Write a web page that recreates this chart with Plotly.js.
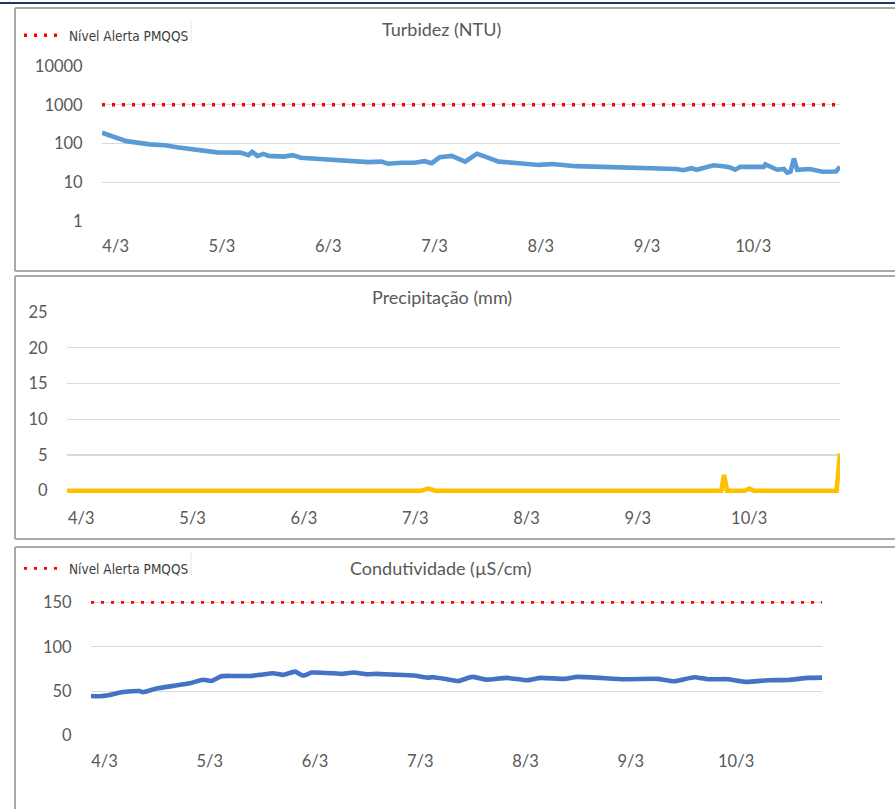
<!DOCTYPE html>
<html>
<head>
<meta charset="utf-8">
<script src="https://cdn.plot.ly/plotly-3.0.1.min.js"></script>
<style>
  html, body { margin: 0; padding: 0; background: #ffffff; }
  #chart { width: 895px; height: 809px; }
</style>
</head>
<body>
<div id="chart"></div>
<script>
// ---------------- data ----------------
const xStart = '2021-03-03 20:55';
const xEnd = '2021-03-10 19:35';

const tickDates = ['2021-03-04', '2021-03-05', '2021-03-06', '2021-03-07', '2021-03-08', '2021-03-09', '2021-03-10'];
const tickLabels = ['4/3', '5/3', '6/3', '7/3', '8/3', '9/3', '10/3'];

const turbTime = [
  '2021-03-03 20:55', '2021-03-04 02:26', '2021-03-04 07:44', '2021-03-04 11:08', '2021-03-04 13:48',
  '2021-03-04 19:05', '2021-03-04 22:53', '2021-03-05 04:10', '2021-03-05 06:00', '2021-03-05 06:50',
  '2021-03-05 08:00', '2021-03-05 09:25', '2021-03-05 10:33', '2021-03-05 14:00', '2021-03-05 15:56',
  '2021-03-05 17:49', '2021-03-06 01:19', '2021-03-06 09:00', '2021-03-06 12:00', '2021-03-06 13:31',
  '2021-03-06 16:32', '2021-03-06 19:30', '2021-03-06 21:46', '2021-03-06 23:22', '2021-03-07 01:11',
  '2021-03-07 03:54', '2021-03-07 06:56', '2021-03-07 09:35', '2021-03-07 11:28', '2021-03-07 14:31',
  '2021-03-07 19:04', '2021-03-07 23:37', '2021-03-08 02:38', '2021-03-08 07:56', '2021-03-08 14:00',
  '2021-03-08 19:18', '2021-03-09 02:07', '2021-03-09 06:40', '2021-03-09 08:11', '2021-03-09 10:04',
  '2021-03-09 11:12', '2021-03-09 15:00', '2021-03-09 17:16', '2021-03-09 18:47', '2021-03-09 19:55',
  '2021-03-09 21:04', '2021-03-10 02:22', '2021-03-10 02:45', '2021-03-10 05:24', '2021-03-10 06:55',
  '2021-03-10 07:40', '2021-03-10 08:25', '2021-03-10 09:10', '2021-03-10 09:55', '2021-03-10 12:40',
  '2021-03-10 15:40', '2021-03-10 18:40', '2021-03-10 19:35'
];
const turbValue = [
  190, 115, 95, 90, 80,
  65, 59, 58, 50, 61,
  48, 54, 48, 46, 50,
  43, 37, 33, 34, 30,
  32, 32, 35, 31, 44,
  48, 34, 54, 46, 34,
  31, 28, 29.5, 26, 25,
  24.5, 22.4, 22, 20.4, 23,
  21, 27.4, 26, 24, 21,
  25, 25, 29, 21, 22,
  17.6, 18.7, 41, 21, 22,
  18.7, 19, 25
];

const precipTime = [
  '2021-03-03 20:55', '2021-03-07 01:15', '2021-03-07 02:50', '2021-03-07 04:20',
  '2021-03-09 18:00', '2021-03-09 18:35', '2021-03-09 19:15',
  '2021-03-09 23:05', '2021-03-10 00:00', '2021-03-10 01:00',
  '2021-03-10 18:50', '2021-03-10 19:35'
];
const precipValue = [0, 0, 0.3, 0, 0, 2.2, 0, 0, 0.3, 0, 0, 5.2];

const condTime = [
  '2021-03-03 20:55', '2021-03-03 22:52', '2021-03-04 01:09', '2021-03-04 04:11', '2021-03-04 08:00',
  '2021-03-04 08:45', '2021-03-04 11:49', '2021-03-04 15:37', '2021-03-04 19:26', '2021-03-04 22:28',
  '2021-03-05 00:22', '2021-03-05 02:39', '2021-03-05 05:19', '2021-03-05 09:09', '2021-03-05 11:26',
  '2021-03-05 14:28', '2021-03-05 16:45', '2021-03-05 19:25', '2021-03-05 21:19', '2021-03-05 23:14',
  '2021-03-06 04:11', '2021-03-06 06:06', '2021-03-06 08:45', '2021-03-06 11:49', '2021-03-06 14:06',
  '2021-03-06 17:55', '2021-03-06 22:29', '2021-03-07 01:32', '2021-03-07 03:03', '2021-03-07 06:06',
  '2021-03-07 08:45', '2021-03-07 11:49', '2021-03-07 14:52', '2021-03-07 19:50', '2021-03-08 00:24',
  '2021-03-08 03:26', '2021-03-08 08:46', '2021-03-08 11:49', '2021-03-08 22:28', '2021-03-09 06:06',
  '2021-03-09 09:55', '2021-03-09 14:28', '2021-03-09 17:32', '2021-03-09 22:06', '2021-03-10 02:17',
  '2021-03-10 07:14', '2021-03-10 11:49', '2021-03-10 16:23', '2021-03-10 19:35'
];
const condValue = [
  44.7, 44.4, 45.8, 49.2, 50.3,
  49, 53, 56, 59, 63,
  61.6, 66.9, 67.2, 67.2, 68.4,
  70.2, 68.4, 72, 67.6, 71,
  70.2, 69.5, 71, 69.1, 69.5,
  68.7, 67.6, 65.3, 65.8, 63.5,
  61.6, 66.1, 63.1, 65, 62.4,
  65, 63.9, 66.1, 63.5, 63.9,
  61.3, 65.8, 63.5, 63.5, 60.5,
  62.4, 62.7, 65, 65.3
];

const alertTime = [xStart, xEnd];
const alertTurb = [1000, 1000];
const alertCond = [150, 150];

const turbTicks = [1, 10, 100, 1000, 10000];
const turbTickLabels = ['1', '10', '100', '1000', '10000'];
const precipTicks = [0, 5, 10, 15, 20, 25];
const condTicks = [0, 50, 100, 150];

const titles = ['Turbidez (NTU)', 'Precipitação (mm)', 'Condutividade (µS/cm)'];
const alertName = 'Nível Alerta PMQQS';

// ---------------- layout helpers ----------------
const W = 895, H = 809;
const fx = px => px / W;
const fy = py => 1 - py / H;

const tickFont = { family: 'Lato, "Open Sans", sans-serif', size: 16.5, color: '#595959' };
const gridColor = '#d9d9d9';

function xAxis(x0, x1, anchor) {
  return {
    domain: [fx(x0), fx(x1)], anchor: anchor, type: 'date',
    range: [xStart, xEnd], tickvals: tickDates, ticktext: tickLabels,
    showgrid: false, zeroline: false, showline: false,
    ticks: 'outside', ticklen: 10, tickcolor: 'rgba(0,0,0,0)',
    tickfont: tickFont, fixedrange: true
  };
}
function yAxisBase(y0, y1, anchor) {
  return {
    domain: [fy(y1), fy(y0)], anchor: anchor,
    showgrid: true, gridcolor: gridColor, gridwidth: 1.3,
    zeroline: false, showline: false,
    ticks: 'outside', ticklen: 15, tickcolor: 'rgba(0,0,0,0)',
    tickfont: tickFont, fixedrange: true
  };
}

const traces = [
  { x: alertTime, y: alertTurb, xaxis: 'x', yaxis: 'y', mode: 'lines', name: alertName,
    line: { color: '#ff0000', width: 3.5, dash: '3px,7px' }, legend: 'legend', hoverinfo: 'skip' },
  { x: turbTime, y: turbValue, xaxis: 'x', yaxis: 'y', mode: 'lines', name: 'Turbidez',
    line: { color: '#5b9bd5', width: 4.6 }, showlegend: false },
  { x: precipTime, y: precipValue, xaxis: 'x2', yaxis: 'y2', mode: 'lines', name: 'Precipitação',
    line: { color: '#ffc000', width: 4.6 }, showlegend: false },
  { x: alertTime, y: alertCond, xaxis: 'x3', yaxis: 'y3', mode: 'lines', name: alertName,
    line: { color: '#ff0000', width: 2.8, dash: '3px,7px' }, legend: 'legend2', hoverinfo: 'skip' },
  { x: condTime, y: condValue, xaxis: 'x3', yaxis: 'y3', mode: 'lines', name: 'Condutividade',
    line: { color: '#4472c4', width: 4.6, shape: 'spline', smoothing: 0.5 }, showlegend: false }
];

const y1 = Object.assign(yAxisBase(66, 221, 'x'), {
  type: 'log', range: [0, 4], tickvals: turbTicks, ticktext: turbTickLabels
});
// precip: extend range slightly below 0 so the line at 0 is not clipped
const precipPxPerUnit = (490.7 - 312) / 25;
const y2 = Object.assign(yAxisBase(312, 490.7 + 0.35 * precipPxPerUnit, 'x2'), {
  range: [-0.35, 25], tickvals: precipTicks
});
const condPxPerUnit = (735.7 - 602.3) / 150;
const y3 = Object.assign(yAxisBase(602.3 - 2.5 * condPxPerUnit, 735.7, 'x3'), {
  range: [0, 152.5], tickvals: condTicks
});

const borderColor = '#a9a9a9';
function panelBorder(top, bottom) {
  return [
    { type: 'line', xref: 'paper', yref: 'paper', x0: fx(15), x1: fx(15), y0: fy(top), y1: fy(bottom),
      line: { color: borderColor, width: 2 } },
    { type: 'line', xref: 'paper', yref: 'paper', x0: fx(15), x1: fx(900), y0: fy(top), y1: fy(top),
      line: { color: borderColor, width: 2 } },
    { type: 'line', xref: 'paper', yref: 'paper', x0: fx(15), x1: fx(900), y0: fy(bottom), y1: fy(bottom),
      line: { color: borderColor, width: 2 } }
  ];
}

const shapes = [].concat(
  [{ type: 'rect', xref: 'paper', yref: 'paper', x0: 0, x1: 1, y0: fy(2), y1: fy(4),
     fillcolor: '#1f3864', line: { width: 0 } }],
  panelBorder(8, 271),
  panelBorder(276, 539),
  panelBorder(547, 815),
  [{ type: 'line', xref: 'paper', yref: 'paper', x0: fx(191), x1: fx(191), y0: fy(20), y1: fy(43),
     line: { color: '#e6e6e6', width: 1 } },
   { type: 'line', xref: 'paper', yref: 'paper', x0: fx(191), x1: fx(191), y0: fy(553), y1: fy(575),
     line: { color: '#e6e6e6', width: 1 } }]
);

const titleFont = { family: 'Lato, "Open Sans", sans-serif', size: 18, color: '#595959' };
const annotations = [
  { text: titles[0], x: fx(441), y: fy(29) },
  { text: titles[1], x: fx(442), y: fy(297) },
  { text: titles[2], x: fx(441), y: fy(568) }
].map(a => Object.assign(a, { xref: 'paper', yref: 'paper', xanchor: 'center', yanchor: 'middle',
  showarrow: false, font: titleFont }));

const legendFont = { family: '"Liberation Sans Narrow", "Arial Narrow", "DejaVu Sans Condensed", sans-serif',
  size: 13.5, color: '#404040' };

const layout = {
  width: W, height: H,
  margin: { l: 0, r: 0, t: 0, b: 0 },
  paper_bgcolor: '#ffffff', plot_bgcolor: 'rgba(0,0,0,0)',
  xaxis: xAxis(102, 840, 'y'),
  yaxis: y1,
  xaxis2: xAxis(67, 840, 'y2'),
  yaxis2: y2,
  xaxis3: xAxis(91, 822, 'y3'),
  yaxis3: y3,
  legend: { x: fx(19), y: fy(20), xanchor: 'left', yanchor: 'top', font: legendFont,
    bgcolor: 'rgba(0,0,0,0)', borderwidth: 0, itemwidth: 40 },
  legend2: { x: fx(19), y: fy(553), xanchor: 'left', yanchor: 'top', font: legendFont,
    bgcolor: 'rgba(0,0,0,0)', borderwidth: 0, itemwidth: 40 },
  shapes: shapes,
  annotations: annotations,
  showlegend: true,
  hovermode: false
};

Plotly.newPlot('chart', traces, layout, { displayModeBar: false, staticPlot: true });
</script>
</body>
</html>
